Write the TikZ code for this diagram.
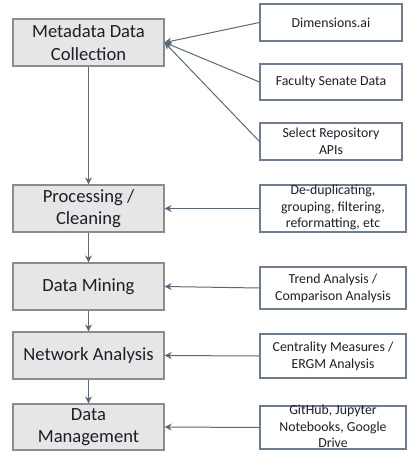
\documentclass[tikz,border=0pt]{standalone}
\usepackage{fontspec}
\setmainfont{Carlito}
\usetikzlibrary{arrows.meta}
\definecolor{boxfill}{HTML}{E6E6E6}
\definecolor{boxline}{HTML}{8C8C8C}
\definecolor{rline}{HTML}{6E7C8E}
\definecolor{arr}{HTML}{5A6878}
\definecolor{txt}{HTML}{1E1E2A}
\begin{document}
\begin{tikzpicture}[x=1pt,y=-1pt,
  stage/.style={draw=boxline,fill=boxfill,line width=1.2pt,minimum width=151pt,minimum height=47pt,inner sep=0pt},
  src/.style={draw=rline,fill=white,line width=1.1pt,inner sep=0pt},
  stagetxt/.style={text=txt,font=\fontsize{18.6}{22.7}\selectfont,align=center,inner sep=0pt},
  srctxt/.style={text=txt,font=\fontsize{13.8}{16.7}\selectfont,align=center,inner sep=0pt},
  conn/.style={draw=arr,line width=1pt,-{Stealth[length=7pt,width=7pt]}}]
\useasboundingbox (0,0) rectangle (415,459);
% stages
\node[stage] (b1) at (88.5,42.5) {};
\node[stage] (b2) at (88.5,208.5) {};
\node[stage] (b3) at (88.5,286.5) {};
\node[stage] (b4) at (88.5,355.5) {};
\node[stage,minimum height=46pt] (b5) at (88.5,427) {};
\node[stagetxt] at (b1) {Metadata Data\\Collection};
\node[stagetxt] at (b2) {Processing /\\Cleaning};
\node[stagetxt] at (b3) {Data Mining};
\node[stagetxt] at (b4) {Network Analysis};
\node[stagetxt] at (b5) {Data\\Management};
% sources
\node[src,minimum width=142pt,minimum height=37pt] (r1) at (331,22.5) {};
\node[src,minimum width=142pt,minimum height=36pt] (r2) at (331,82) {};
\node[src,minimum width=142pt,minimum height=37pt] (r3) at (331,141.5) {};
\node[src,minimum width=146pt,minimum height=47pt] (r4) at (333,208.5) {};
\node[src,minimum width=146pt,minimum height=42pt] (r5) at (333,288) {};
\node[src,minimum width=146pt,minimum height=44pt] (r6) at (333,356) {};
\node[src,minimum width=146pt,minimum height=43pt] (r7) at (333,427.5) {};
\node[srctxt] at (r1) {Dimensions.ai};
\node[srctxt] at (r2) {Faculty Senate Data};
\node[srctxt] at (r3) {Select Repository\\APIs};
\node[srctxt] at ([yshift=1pt]r4) {De-duplicating,\\grouping, filtering,\\reformatting, etc};
\node[srctxt] at (r5) {Trend Analysis /\\Comparison Analysis};
\node[srctxt] at (r6) {Centrality Measures /\\ERGM Analysis};
\node[srctxt] at ([yshift=1pt]r7) {GitHub, Jupyter\\Notebooks, Google\\Drive};
% connectors
\draw[conn] (r1.west) -- (b1.east);
\draw[conn] (r2.west) -- (b1.east);
\draw[conn] (r3.west) -- (b1.east);
\draw[conn] (r4.west) -- (b2.east);
\draw[conn] (r5.west) -- (b3.east);
\draw[conn] (r6.west) -- (b4.east);
\draw[conn] (r7.west) -- (b5.east);
\draw[conn] (b1.south) -- (b2.north);
\draw[conn] (b2.south) -- (b3.north);
\draw[conn] (b3.south) -- (b4.north);
\draw[conn] (b4.south) -- (b5.north);
\end{tikzpicture}
\end{document}
